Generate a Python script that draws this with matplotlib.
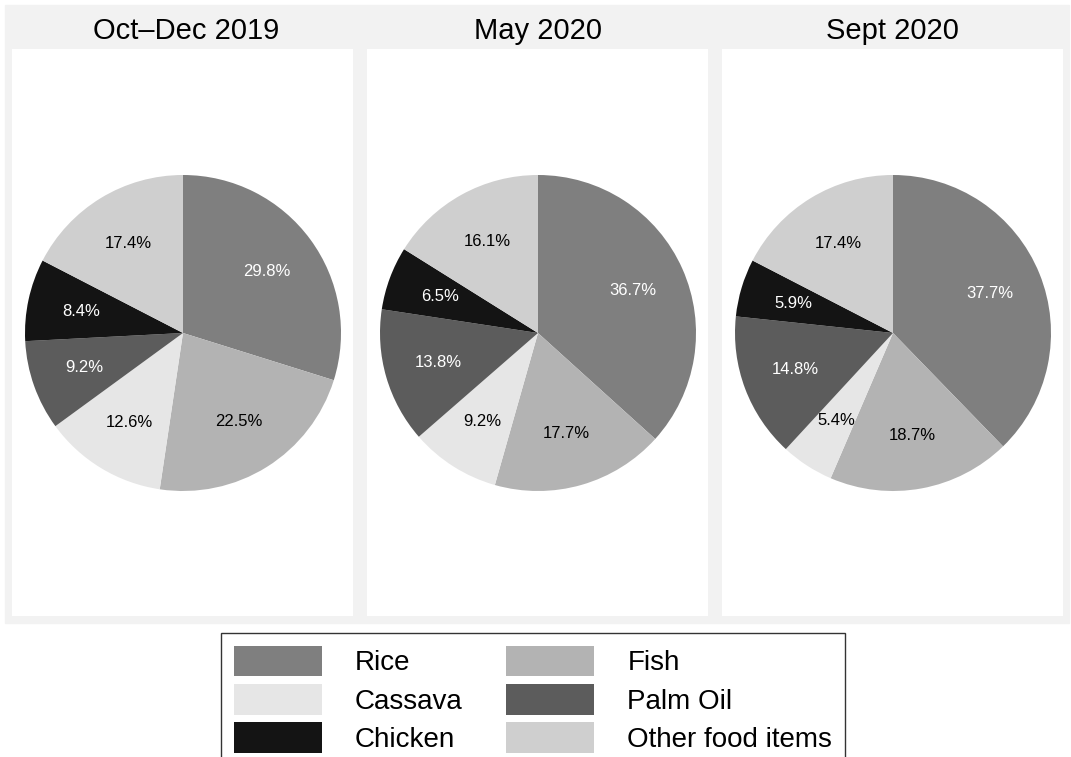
import matplotlib.pyplot as plt
from matplotlib.patches import Rectangle

plt.rcParams['font.family'] = ['Liberation Sans', 'DejaVu Sans']

periods = ["Oct\u2013Dec 2019", "May 2020", "Sept 2020"]
items = ["Rice", "Fish", "Cassava", "Palm Oil", "Chicken", "Other food items"]
shares_2019 = [29.8, 22.5, 12.6, 9.2, 8.4, 17.4]
shares_may = [36.7, 17.7, 9.2, 13.8, 6.5, 16.1]
shares_sept = [37.7, 18.7, 5.4, 14.8, 5.9, 17.4]
colors = ["#7f7f7f", "#b3b3b3", "#e6e6e6", "#5c5c5c", "#141414", "#cfcfcf"]
text_colors = ["white", "black", "black", "white", "white", "black"]

W, H = 1071, 757
fig = plt.figure(figsize=(W / 100, H / 100), dpi=100)

def fx(px):
    return px / W

def fy(py):
    return 1 - py / H

# grey backdrop behind the three panels
fig.patches.append(Rectangle((fx(5), fy(623)), fx(1064), (618) / H,
                             transform=fig.transFigure, color="#f2f2f2", zorder=-5))

panel_left = [12, 367, 722]
panel_w, panel_top, panel_bot = 341, 49, 616
cx_off, cy = 171, 333
radius = 158

wedges = None
for left, title, shares in zip(panel_left, periods, [shares_2019, shares_may, shares_sept]):
    ax = fig.add_axes([fx(left), fy(panel_bot), panel_w / W, (panel_bot - panel_top) / H])
    w, t, at = ax.pie(shares, colors=colors, startangle=90, counterclock=False,
                      radius=radius, autopct='%.1f%%', pctdistance=0.66,
                      wedgeprops=dict(linewidth=0), textprops=dict(fontsize=12))
    for a, c in zip(at, text_colors):
        a.set_color(c)
    ax.set_frame_on(True)
    ax.set_facecolor("white")
    ax.set_xlim(-cx_off, panel_w - cx_off)
    ax.set_ylim(-(panel_bot - cy), cy - panel_top)
    ax.set_aspect('auto')
    ax.set_xticks([])
    ax.set_yticks([])
    for s in ax.spines.values():
        s.set_visible(False)
    fig.text(fx(left + panel_w / 2 + (4 if left == 12 else 0)), fy(31), title,
             ha='center', va='center', fontsize=21)
    wedges = w

order = [0, 2, 4, 1, 3, 5]
fig.legend([wedges[i] for i in order], [items[i] for i in order], ncol=2,
           loc='upper left', bbox_to_anchor=(fx(221), fy(633)),
           fontsize=20, frameon=True, fancybox=False, edgecolor='black',
           handlelength=3.17, handleheight=1.32, labelspacing=0.28,
           handletextpad=1.19, columnspacing=1.58, borderpad=0.45,
           borderaxespad=0)

fig.savefig("out.png", dpi=100)
